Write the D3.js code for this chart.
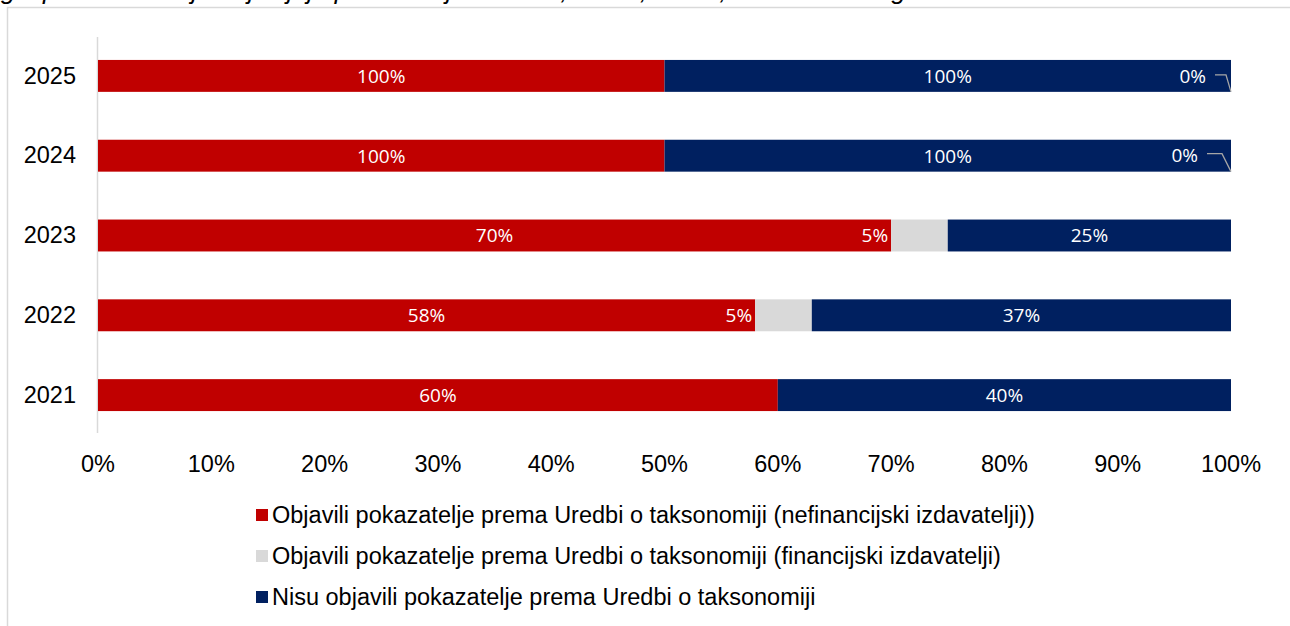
<!DOCTYPE html>
<html>
<head>
<meta charset="utf-8">
<script src="https://cdn.jsdelivr.net/npm/d3@7"></script>
<style>
  body { margin: 0; background: #fff; }
  svg { display: block; }
</style>
</head>
<body>
<svg width="1290" height="626"></svg>
<script>
// Data
var years = ["2025", "2024", "2023", "2022", "2021"];
var nonFinancial = [100, 100, 70, 58, 60];
var financial = [0, 0, 5, 5, null];
var notPublished = [100, 100, 25, 37, 40];
var tickLabels = ["0%", "10%", "20%", "30%", "40%", "50%", "60%", "70%", "80%", "90%", "100%"];
var seriesNames = [
  "Objavili pokazatelje prema Uredbi o taksonomiji (nefinancijski izdavatelji))",
  "Objavili pokazatelje prema Uredbi o taksonomiji (financijski izdavatelji)",
  "Nisu objavili pokazatelje prema Uredbi o taksonomiji"
];
var colors = ["#C00000", "#D9D9D9", "#002060"];
var keys = ["nf", "f", "n"];

var svg = d3.select("svg");
var width = +svg.attr("width");
var height = +svg.attr("height");
var arial = "Liberation Sans, Arial, sans-serif";

// build rows for the stack
var rows = years.map((y, i) => ({
  year: y, nf: nonFinancial[i], f: financial[i] || 0, n: notPublished[i], fRaw: financial[i]
}));

var stack = d3.stack().keys(keys).offset(d3.stackOffsetExpand);
var series = stack(rows);

// chart frame (cut off at top/right as in the reference)
svg.append("rect")
    .attr("x", 7.5).attr("y", 7.5)
    .attr("width", width + 20).attr("height", height + 20)
    .attr("fill", "none").attr("stroke", "#d9d9d9").attr("stroke-width", 1.5);

// title, mostly cut off at the top edge
svg.append("text")
    .attr("x", 1).attr("y", -1)
    .style("font-family", arial)
    .style("font-size", "26px").style("font-style", "italic")
    .attr("fill", "#000")
    .text("gospodarstva koja objavljuju pokazatelje u 2021., 2022., 2023., 2024. i 2025. godini");

var x = d3.scaleLinear().domain([0, 1]).range([98, 1231]);
var y = d3.scaleBand().domain(years).range([36, 435]).paddingInner(0.6).paddingOuter(0.3);

// category axis line
svg.append("line")
    .attr("x1", 97.5).attr("x2", 97.5)
    .attr("y1", 37).attr("y2", 433)
    .attr("stroke", "#d9d9d9").attr("stroke-width", 1.5);

// year labels
svg.selectAll(".year")
  .data(years)
  .enter().append("text")
    .attr("class", "year")
    .attr("x", 76)
    .attr("y", d => y(d) + y.bandwidth() / 2)
    .attr("dy", "0.33em")
    .attr("text-anchor", "end")
    .style("font-family", arial)
    .style("font-size", "23.5px")
    .attr("fill", "#000")
    .text(d => d);

// x tick labels
svg.selectAll(".tick")
  .data(tickLabels)
  .enter().append("text")
    .attr("class", "tick")
    .attr("x", (d, i) => x(i / 10))
    .attr("y", 472)
    .attr("text-anchor", "middle")
    .style("font-family", arial)
    .style("font-size", "23.5px")
    .attr("fill", "#000")
    .text(d => d);

// bars
var layer = svg.selectAll(".layer")
  .data(series)
  .enter().append("g")
    .attr("class", "layer")
    .attr("fill", (d, i) => colors[i]);

layer.selectAll("rect")
  .data(d => d)
  .enter().append("rect")
    .attr("x", d => x(d[0]))
    .attr("y", d => y(d.data.year))
    .attr("width", d => x(d[1]) - x(d[0]))
    .attr("height", y.bandwidth());

// data labels
var labelFont = "'Open Sans', 'Noto Sans', sans-serif";
function addLabel(xp, yp, txt, anchor) {
  svg.append("text")
    .attr("x", xp).attr("y", yp)
    .attr("dy", "0.36em")
    .attr("text-anchor", anchor)
    .style("font-family", labelFont)
    .style("font-size", "19px")
    .attr("fill", "#fff")
    .text(txt);
}

series.forEach((s, si) => {
  s.forEach(d => {
    var yc = y(d.data.year) + y.bandwidth() / 2;
    var k = keys[si];
    if (k === "nf" || k === "n") {
      addLabel((x(d[0]) + x(d[1])) / 2, yc, d.data[k] + "%", "middle");
    } else if (d.data.fRaw != null) {
      if (d.data.fRaw > 0) {
        // label sits at the end of the red segment
        addLabel(x(d[0]) - 3, yc, d.data.fRaw + "%", "end");
      } else {
        // zero label moved to the bar end, with a leader line
        var first = d.data.year === years[0];
        var lx = x(1) - (first ? 25 : 33);
        var ly = yc + (first ? 0 : -1);
        addLabel(lx, ly, d.data.fRaw + "%", "end");
        svg.append("path")
          .attr("d", "M" + (lx + 9) + "," + (ly - 1) +
                "H" + (x(1) - (first ? 5 : 9)) +
                "L" + x(1) + "," + (y(d.data.year) + y.bandwidth()))
          .attr("fill", "none")
          .attr("stroke", "#a6a6a6")
          .attr("stroke-width", 1.3);
      }
    }
  });
});

// legend
var legend = svg.selectAll(".legend")
  .data(seriesNames)
  .enter().append("g")
    .attr("class", "legend")
    .attr("transform", (d, i) => "translate(256," + (515 + i * 41) + ")");

legend.append("rect")
    .attr("x", 0).attr("y", -6)
    .attr("width", 12).attr("height", 12)
    .attr("fill", (d, i) => colors[i]);

legend.append("text")
    .attr("x", 16).attr("y", 0)
    .attr("dy", "0.35em")
    .style("font-family", arial)
    .style("font-size", "23.5px")
    .attr("fill", "#000")
    .text(d => d);
</script>
</body>
</html>
